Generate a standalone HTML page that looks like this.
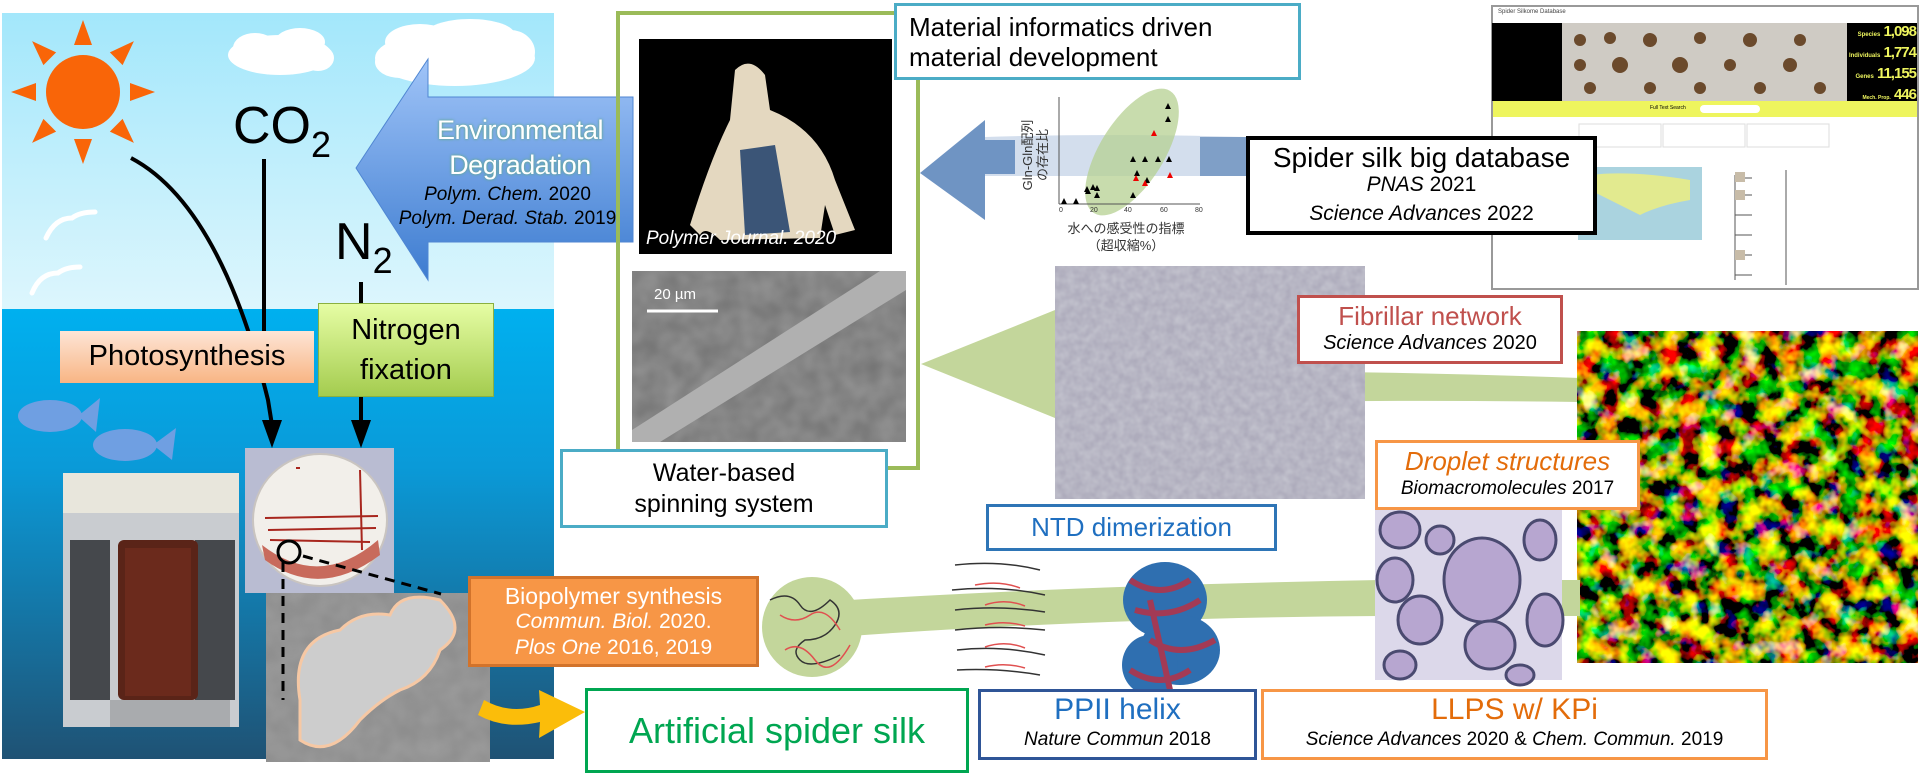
<!DOCTYPE html>
<html><head><meta charset="utf-8">
<style>
body{margin:0;width:1920px;height:776px;overflow:hidden;background:#fff;font-family:"Liberation Sans","Noto Sans CJK JP",sans-serif;position:relative}
.a{position:absolute}
.box{position:absolute;box-sizing:border-box;background:#fff;display:flex;flex-direction:column;align-items:center;justify-content:center;text-align:center;line-height:1.15}
i{font-style:italic}
</style></head><body>
<svg class="a" style="left:0;top:0" width="1920" height="776" viewBox="0 0 1920 776">
<defs>
<linearGradient id="sky" x1="0" y1="0" x2="0" y2="1"><stop offset="0" stop-color="#a3e7fb"/><stop offset="1" stop-color="#ddf6fd"/></linearGradient>
<linearGradient id="sea" x1="0" y1="0" x2="0" y2="1"><stop offset="0" stop-color="#00b0ef"/><stop offset="0.35" stop-color="#0a9ad8"/><stop offset="1" stop-color="#1f5274"/></linearGradient>
<linearGradient id="barr" x1="0" y1="0" x2="0" y2="1"><stop offset="0" stop-color="#a0c4f8"/><stop offset="1" stop-color="#3d7cd0"/></linearGradient>
<filter id="tex" x="0" y="0" width="100%" height="100%"><feTurbulence type="fractalNoise" baseFrequency="0.12" numOctaves="2" seed="3"/><feColorMatrix type="matrix" values="0 0 0 0 0.55  0 0 0 0 0.55  0 0 0 0 0.62  0 0 0 -1.4 1.1"/></filter>
<filter id="conf" x="0" y="0" width="100%" height="100%"><feTurbulence type="fractalNoise" baseFrequency="0.05" numOctaves="3" seed="8"/><feColorMatrix type="matrix" values="4 0 0 0 -1.7  1.2 2.6 0 0 -1.6  0 0 1.5 0 -0.85  0 0 0 0 1"/></filter>
<filter id="sem" x="0" y="0" width="100%" height="100%"><feTurbulence type="fractalNoise" baseFrequency="0.05" numOctaves="2" seed="2"/><feColorMatrix type="matrix" values="0 0 0 0 0.45  0 0 0 0 0.45  0 0 0 0 0.45  0 0 0 -1 0.9"/></filter>
</defs>
<rect x="2" y="13" width="552" height="297" fill="url(#sky)"/>
<rect x="2" y="309" width="552" height="450" fill="url(#sea)"/>
<g fill="#f96508" transform="translate(83,92)">
<ellipse cx="0" cy="0" rx="37" ry="37"/>
<g id="ray"><polygon points="-9,-47 9,-47 0,-72"/></g>
<use href="#ray" transform="rotate(45)"/><use href="#ray" transform="rotate(90)"/><use href="#ray" transform="rotate(135)"/><use href="#ray" transform="rotate(180)"/><use href="#ray" transform="rotate(225)"/><use href="#ray" transform="rotate(270)"/><use href="#ray" transform="rotate(315)"/>
</g>
<g fill="#fff">
<ellipse cx="280" cy="55" rx="52" ry="20"/><ellipse cx="255" cy="48" rx="22" ry="15"/><ellipse cx="300" cy="42" rx="25" ry="14"/><ellipse cx="318" cy="58" rx="16" ry="13"/>
<ellipse cx="455" cy="58" rx="80" ry="28"/><ellipse cx="420" cy="42" rx="35" ry="18"/><ellipse cx="470" cy="35" rx="45" ry="16"/><ellipse cx="510" cy="52" rx="25" ry="22"/><ellipse cx="400" cy="62" rx="25" ry="16"/>
</g>
<g fill="none" stroke="#fff" stroke-width="5" stroke-linecap="round">
<path d="M46 238 Q55 218 72 218 Q80 212 95 212"/><path d="M32 293 Q40 273 58 273 Q66 267 80 267"/>
</g>
<g stroke="#000" stroke-width="4" fill="none">
<path d="M131 158 Q220 205 268 400 L272 425"/>
<line x1="264" y1="159" x2="264" y2="332"/>
<line x1="361" y1="282" x2="361" y2="425"/>
</g>
<polygon points="262,420 282,420 272,448" fill="#000"/>
<polygon points="351,420 371,420 361,448" fill="#000"/>
<polygon points="356,168 428,59 428,97 633,97 633,242 428,242 428,280" fill="url(#barr)" stroke="#4f86d2" stroke-width="1"/>
<g fill="#6f9fe2"><ellipse cx="50" cy="416" rx="32" ry="16"/><polygon points="78,416 100,398 96,432"/><ellipse cx="125" cy="445" rx="32" ry="16"/><polygon points="153,445 176,428 172,460"/></g>
<rect x="63" y="473" width="176" height="254" fill="#c9ccd0"/>
<rect x="63" y="473" width="176" height="40" fill="#e8e6dc"/>
<rect x="70" y="540" width="40" height="160" fill="#45484c"/>
<rect x="195" y="540" width="40" height="160" fill="#45484c"/>
<rect x="118" y="540" width="80" height="160" rx="6" fill="#5a2418"/>
<rect x="125" y="548" width="66" height="148" fill="#6b2a1c"/>
<rect x="110" y="700" width="120" height="27" fill="#a9abae"/>
<rect x="245" y="448" width="149" height="145" fill="#b9bcd2"/>
<ellipse cx="320" cy="520" rx="67" ry="66" fill="#f2efea" stroke="#c9c4c0" stroke-width="2"/>
<path d="M262 545 Q320 590 378 540 L380 555 Q320 600 265 560Z" fill="#c86a5c"/>
<g stroke="#a8261e" stroke-width="2"><line x1="265" y1="518" x2="378" y2="516"/><line x1="268" y1="530" x2="376" y2="528"/><line x1="360" y1="470" x2="362" y2="550"/><line x1="296" y1="468" x2="300" y2="468"/><line x1="270" y1="540" x2="370" y2="542"/></g>
<rect x="266" y="593" width="224" height="169" fill="#8c8c8c"/>
<rect x="266" y="593" width="224" height="169" filter="url(#sem)" opacity="0.5"/>
<path d="M300 700 Q290 640 340 630 Q360 610 390 615 Q400 590 440 600 Q470 630 440 650 Q430 680 400 690 Q380 700 360 720 Q330 760 300 740Z" fill="#cdcdcd" stroke="#f6c8a4" stroke-width="3"/>
<circle cx="289" cy="552" r="11" fill="none" stroke="#000" stroke-width="3"/>
<g stroke="#000" stroke-width="3" stroke-dasharray="10,7"><line x1="283" y1="562" x2="283" y2="700"/><line x1="303" y1="556" x2="441" y2="594"/></g>
<path d="M484 700 Q510 715 540 705 L539 690 L585 712 L539 738 L540 722 Q505 730 478 715Z" fill="#fbbd0a"/>
<rect x="618" y="13" width="300" height="455" fill="none" stroke="#9bbb59" stroke-width="4"/>
<rect x="639" y="39" width="253" height="215" fill="#000"/>
<path d="M735 70 Q750 55 765 75 L770 110 Q820 130 835 180 L855 230 L835 235 L825 205 L820 238 L720 240 Q705 225 700 235 L690 225 Q710 160 730 120Z" fill="#e4d8c0"/>
<path d="M740 150 L745 235 L790 232 L775 145Z" fill="#3b5577"/>
<rect x="632" y="271" width="274" height="171" fill="#767676"/>
<rect x="632" y="271" width="274" height="171" filter="url(#sem)" opacity="0.6"/>
<polygon points="632,430 880,271 906,271 906,290 660,442 632,442" fill="#b0b0b0"/>
<line x1="647" y1="311" x2="718" y2="311" stroke="#fff" stroke-width="3"/>
<path d="M985 137 Q1120 133 1246 137 L1246 176 Q1120 176 985 176Z" fill="#c8d6e8" opacity="0.8"/>
<path d="M1200 137 L1260 137 L1260 176 L1200 176Z" fill="#7f9fc7"/>
<polygon points="920,173 985,120 985,220" fill="#6f94c3"/>
<rect x="985" y="140" width="30" height="34" fill="#6f94c3"/>
<ellipse cx="1132" cy="152" rx="72" ry="32" transform="rotate(-58 1132 152)" fill="#b5d092" opacity="0.75"/>
<g stroke="#555" stroke-width="1"><line x1="1059" y1="97" x2="1059" y2="204"/><line x1="1059" y1="204" x2="1200" y2="204"/></g>
<g font-size="7" fill="#333" font-family="Liberation Sans"><text x="1059" y="212">0</text><text x="1090" y="212">20</text><text x="1124" y="212">40</text><text x="1160" y="212">60</text><text x="1195" y="212">80</text></g>
<g fill="#000"><path d="M1061 204l3-6 3 6z M1073 204l3-6 3 6z M1085 194l3-6 3 6z M1084 192l3-6 3 6z M1090 190l3-6 3 6z M1094 198l3-6 3 6z M1094 191l3-6 3 6z M1130 198l3-6 3 6z M1130 162l3-6 3 6z M1134 176l3-6 3 6z M1142 162l3-6 3 6z M1144 183l3-6 3 6z M1155 162l3-6 3 6z M1166 162l3-6 3 6z M1165 109l3-6 3 6z M1165 122l3-6 3 6z"/></g>
<g fill="#e00"><path d="M1151 136l3-6 3 6z M1133 181l3-6 3 6z M1142 186l3-6 3 6z M1167 178l3-6 3 6z"/></g>
<path d="M1040 372 Q1300 368 1580 378 L1580 402 Q1300 398 1040 408Z" fill="#c3d69b"/>
<polygon points="921,364 1055,310 1055,418" fill="#c3d69b"/>
<rect x="1055" y="266" width="310" height="233" fill="#aeacbc"/>
<rect x="1055" y="266" width="310" height="233" filter="url(#tex)"/>
<rect x="1577" y="331" width="341" height="332" fill="#000"/>
<rect x="1577" y="331" width="341" height="332" filter="url(#conf)"/>
<path d="M850 600 Q1100 585 1380 580 L1380 616 Q1100 618 850 636Z" fill="#c3d69b"/>
<rect x="1560" y="580" width="20" height="36" fill="#c3d69b"/>
<circle cx="812" cy="627" r="50" fill="#c3d69b"/>
<g fill="none" stroke-width="1.5">
<path d="M770 600 Q790 590 800 605 T830 600 Q845 610 835 625 T805 640 Q790 650 800 660 T840 655" stroke="#333"/>
<path d="M780 615 Q795 625 810 615 T840 630 M785 650 Q800 640 815 660 T850 645" stroke="#e05050"/>
<path d="M955 565 Q1000 560 1040 570 M952 590 Q1000 585 1045 595 M955 610 Q1000 605 1045 612 M955 630 Q1000 625 1045 630 M957 650 Q1000 645 1045 655 M957 670 Q1000 668 1040 675" stroke="#333"/>
<path d="M975 585 Q1000 580 1020 588 M985 605 Q1005 598 1025 606 M985 625 Q1005 620 1025 626 M985 647 Q1005 640 1025 648 M985 667 Q1005 662 1025 668" stroke="#e05050"/>
</g>
<g>
<ellipse cx="1165" cy="600" rx="42" ry="38" fill="#2f6fb0"/>
<ellipse cx="1180" cy="650" rx="40" ry="35" fill="#2f6fb0"/>
<ellipse cx="1150" cy="665" rx="28" ry="30" fill="#2f6fb0"/>
<g stroke="#a33a55" stroke-width="6" fill="none"><path d="M1130 580 Q1160 600 1190 580 M1135 610 Q1170 620 1200 600 M1150 640 Q1180 660 1215 640 M1130 670 Q1160 690 1190 670 M1150 600 L1170 690"/></g>
</g>
<rect x="1375" y="510" width="187" height="170" fill="#dcd8ea"/>
<g fill="#b7a6d0" stroke="#4a4a70" stroke-width="3">
<ellipse cx="1482" cy="580" rx="38" ry="42"/><ellipse cx="1400" cy="530" rx="20" ry="18"/><ellipse cx="1395" cy="580" rx="18" ry="22"/><ellipse cx="1420" cy="620" rx="22" ry="24"/><ellipse cx="1490" cy="645" rx="25" ry="24"/><ellipse cx="1440" cy="540" rx="14" ry="14"/><ellipse cx="1540" cy="540" rx="16" ry="20"/><ellipse cx="1545" cy="620" rx="18" ry="26"/><ellipse cx="1400" cy="665" rx="16" ry="14"/><ellipse cx="1520" cy="675" rx="14" ry="10"/>
</g>
<rect x="1492" y="6" width="426" height="283" fill="#fff" stroke="#999" stroke-width="2"/>
<rect x="1492" y="23" width="70" height="78" fill="#000"/>
<rect x="1562" y="23" width="285" height="78" fill="#cfcbc4"/>
<rect x="1847" y="23" width="70" height="78" fill="#000"/>
<g fill="#6b4a2c"><circle cx="1580" cy="40" r="6"/><circle cx="1610" cy="38" r="6"/><circle cx="1650" cy="40" r="7"/><circle cx="1700" cy="38" r="6"/><circle cx="1750" cy="40" r="7"/><circle cx="1800" cy="40" r="6"/><circle cx="1580" cy="65" r="6"/><circle cx="1620" cy="65" r="8"/><circle cx="1680" cy="65" r="8"/><circle cx="1730" cy="65" r="6"/><circle cx="1790" cy="65" r="7"/><circle cx="1590" cy="88" r="6"/><circle cx="1650" cy="88" r="6"/><circle cx="1700" cy="88" r="6"/><circle cx="1760" cy="88" r="6"/><circle cx="1820" cy="88" r="6"/></g>
<rect x="1493" y="101" width="424" height="16" fill="#eef55e"/>
<rect x="1700" y="105" width="60" height="8" rx="4" fill="#fff"/>
<g fill="#fff" stroke="#ddd"><rect x="1579" y="124" width="82" height="23"/><rect x="1663" y="124" width="82" height="23"/><rect x="1747" y="124" width="82" height="23"/></g>
<rect x="1578" y="167" width="124" height="73" fill="#aad3df"/>
<path d="M1590 175 Q1630 170 1690 180 L1690 200 Q1660 205 1640 215 L1620 205 Q1600 195 1590 190Z" fill="#f0f07a" opacity="0.8"/>
<g stroke="#555" stroke-width="1"><path d="M1735 175 V280 M1735 178 H1752 M1735 195 H1752 M1735 215 H1752 M1735 235 H1752 M1735 255 H1752 M1735 275 H1752"/><line x1="1786" y1="170" x2="1786" y2="285"/></g>
<g fill="#c8bca8"><rect x="1735" y="172" width="10" height="10"/><rect x="1735" y="190" width="10" height="10"/><rect x="1735" y="250" width="10" height="10"/></g>
</svg>

<div class="a" style="left:233px;top:100px;font-size:52px;line-height:52px">CO<span style="font-size:36px;position:relative;top:14px">2</span></div>
<div class="a" style="left:335px;top:216px;font-size:52px;line-height:52px">N<span style="font-size:36px;position:relative;top:14px">2</span></div>
<div class="a" style="left:425px;top:113px;width:190px;text-align:center;color:#fff;font-size:27px;line-height:35px;letter-spacing:-0.5px;text-shadow:0 0 3px #6a9,0 0 2px #6a9">Environmental<br>Degradation</div>
<div class="a" style="left:385px;top:183px;width:245px;text-align:center;color:#000;font-size:19px;line-height:24px"><i>Polym. Chem.</i> 2020<br><i>Polym. Derad. Stab.</i> 2019</div>
<div class="box" style="left:60px;top:331px;width:254px;height:52px;background:linear-gradient(#fde5d6,#f8b584);font-size:29px">Photosynthesis</div>
<div class="box" style="left:318px;top:303px;width:176px;height:94px;background:linear-gradient(#e6fda4,#a4cc4f);border:1px solid #8ab040;font-size:29px;line-height:40px">Nitrogen<br>fixation</div>

<div class="a" style="left:646px;top:228px;color:#fff;font-size:19px;font-style:italic">Polymer Journal. 2020</div>
<div class="a" style="left:654px;top:286px;color:#fff;font-size:15px">20 µm</div>
<div class="box" style="left:894px;top:3px;width:407px;height:77px;border:3px solid #4bacc6;align-items:flex-start;padding-left:12px;text-align:left;font-size:26px;line-height:30px">Material informatics driven<br>material development</div>
<div class="a" style="left:980px;top:140px;width:110px;text-align:center;font-size:13px;line-height:15px;transform:rotate(-90deg);color:#333">Gln-Gln配列<br>の存在比</div>
<div class="a" style="left:1056px;top:220px;width:140px;text-align:center;font-size:13px;line-height:17px;color:#333">水への感受性の指標<br>（超収縮%）</div>
<div class="box" style="left:1246px;top:136px;width:351px;height:99px;border:4px solid #000;font-size:28px;line-height:27px"><div>Spider silk big database</div><div style="font-size:21px"><i>PNAS</i> 2021</div><div style="font-size:21px;margin-top:2px"><i>Science Advances</i> 2022</div></div>
<div class="a" style="left:1498px;top:9px;font-size:6px;color:#444">Spider Silkome Database</div>
<div class="a" style="left:1846px;top:23px;width:70px;text-align:right;color:#eef55e;font-size:15px;line-height:18px;font-weight:bold;letter-spacing:-1px;white-space:nowrap"><span style="font-size:6px;letter-spacing:0">Species</span> 1,098<br><span style="font-size:6px;letter-spacing:0">Individuals</span> 1,774<br><span style="font-size:6px;letter-spacing:0">Genes</span> 11,155<br><span style="font-size:5px;letter-spacing:0">Mech. Prop.</span> 446</div>
<div class="a" style="left:1650px;top:105px;font-size:5px">Full Text Search</div>

<div class="box" style="left:560px;top:449px;width:328px;height:79px;border:3px solid #4bacc6;font-size:25px;line-height:31px">Water-based<br>spinning system</div>
<div class="box" style="left:1297px;top:295px;width:266px;height:69px;border:3px solid #c0504d;font-size:26px;line-height:27px"><div style="color:#c0504d">Fibrillar network</div><div style="font-size:20px"><i>Science Advances</i> 2020</div></div>
<div class="box" style="left:1375px;top:440px;width:265px;height:70px;border:3px solid #f79646;font-size:26px;line-height:28px"><div style="color:#e36c0a"><i>Droplet structures</i></div><div style="font-size:19px"><i>Biomacromolecules</i> 2017</div></div>
<div class="box" style="left:986px;top:504px;width:291px;height:47px;border:3px solid #2e75b6;color:#1f6fc0;font-size:26px">NTD dimerization</div>
<div class="box" style="left:468px;top:576px;width:291px;height:91px;background:#f79646;border:3px solid #d2732b;color:#fff;font-size:23px;line-height:26px"><div>Biopolymer synthesis</div><div style="font-size:21px"><i>Commun. Biol.</i> 2020.</div><div style="font-size:21px"><i>Plos One</i> 2016, 2019</div></div>
<div class="box" style="left:585px;top:688px;width:384px;height:85px;border:3px solid #00a651;color:#00a651;font-size:36px">Artificial spider silk</div>
<div class="box" style="left:978px;top:689px;width:279px;height:71px;border:3px solid #2f5597;font-size:30px;line-height:30px"><div style="color:#1f6fc0">PPII helix</div><div style="font-size:19px"><i>Nature Commun</i> 2018</div></div>
<div class="box" style="left:1261px;top:689px;width:507px;height:71px;border:3px solid #f79646;font-size:30px;line-height:30px"><div style="color:#e36c0a">LLPS w/ KPi</div><div style="font-size:19px"><i>Science Advances</i> 2020 &amp; <i>Chem. Commun.</i> 2019</div></div>
</body></html>
